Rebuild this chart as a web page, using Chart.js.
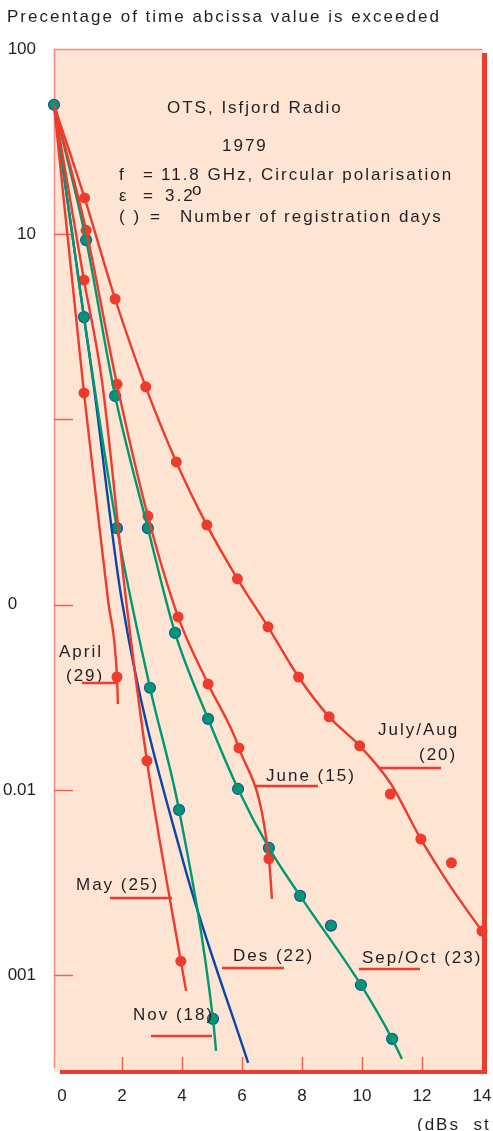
<!DOCTYPE html>
<html><head><meta charset="utf-8">
<script src="https://cdn.jsdelivr.net/npm/chart.js@4.4.1/dist/chart.umd.min.js"></script>
<style>html,body{margin:0;padding:0;background:#fff;}canvas{display:block;}</style>
</head><body>
<canvas id="c" width="493" height="1131"></canvas>
<script>
// ---------- axis ticks ----------
const xTickValues = [0, 2, 4, 6, 8, 10, 12, 14];
const xTickLabels = ['0', '2', '4', '6', '8', '10', '12', '14'];
const yTickValues = [100, 10, 1, 0.1, 0.01, 0.001];
const yTickLabels = ['100', '10', '', '0    ', '0.01', '001'];

// ---------- series (x = attenuation dB, y = % of time exceeded) ----------
// July/Aug (20)
const julyLineX = [0, 1, 2, 3, 4, 5, 6, 7, 8, 9, 10, 11, 12, 13, 14];
const julyLineY = [50, 15.7, 4.47, 1.50, 0.59, 0.269, 0.138, 0.0759, 0.0407, 0.0248, 0.0173, 0.0109, 0.00543, 0.00296, 0.00173];
const julyPtsX = [1, 2, 3, 4, 5, 6, 7, 8, 9, 10, 11, 12, 13, 14];
const julyPtsY = [15.7, 4.47, 1.50, 0.59, 0.269, 0.138, 0.0759, 0.0407, 0.0248, 0.0173, 0.0095, 0.00543, 0.00404, 0.00173];

// June (15)
const juneLineX = [0, 1.05, 2.06, 3.07, 4.06, 5.04, 6.05, 7.03, 7.13];
const juneLineY = [50, 10.5, 1.55, 0.301, 0.0859, 0.0373, 0.01686, 0.00425, 0.00258];
const junePtsX = [1.05, 2.06, 3.07, 4.06, 5.04, 6.05, 7.03];
const junePtsY = [10.5, 1.55, 0.301, 0.0859, 0.0373, 0.01686, 0.00425];

// April (29)
const aprilLineX = [0, 0.98, 1.77, 2.06, 2.09];
const aprilLineY = [50, 1.39, 0.105, 0.0407, 0.0291];
const aprilPtsX = [0.98, 2.06];
const aprilPtsY = [1.39, 0.0407];

// May (25)
const mayLineX = [0, 0.98, 1.57, 2.36, 3.04, 3.57, 4.15, 4.32];
const mayLineY = [50, 5.66, 1.61, 0.105, 0.01435, 0.00414, 0.00119, 0.000822];
const mayPtsX = [0.98, 3.04, 4.15];
const mayPtsY = [5.66, 0.01435, 0.00119];

// Sep/Oct (23)
const sepLineX = [0, 1.05, 2.0, 3.07, 3.96, 5.04, 6.02, 7.03, 8.05, 10.04, 11.06, 11.38];
const sepLineY = [50, 9.3, 1.34, 0.259, 0.0704, 0.0242, 0.01012, 0.00486, 0.00268, 0.000885, 0.000453, 0.000353];
const sepPtsX = [0, 1.05, 2.0, 3.07, 3.96, 5.04, 6.02, 7.03, 8.05, 9.06, 10.04, 11.06];
const sepPtsY = [50, 9.3, 1.34, 0.259, 0.0704, 0.0242, 0.01012, 0.00486, 0.00268, 0.00185, 0.000885, 0.000453];

// Nov (18)
const novLineX = [0, 0.98, 2.06, 3.14, 4.09, 5.20, 5.30];
const novLineY = [50, 3.57, 0.259, 0.0356, 0.0078, 0.000581, 0.00039];
const novPtsX = [0.98, 2.06, 3.14, 4.09, 5.20];
const novPtsY = [3.57, 0.259, 0.0356, 0.0078, 0.000581];

// Des (22)
const desLineX = [0, 0.98, 1.28, 2.22, 4.22, 6.35];
const desLineY = [50, 3.57, 1.61, 0.105, 0.00414, 0.000336];

// ---------- styling ----------
const RED = '#ed3b2d';
const GREEN = '#00986f';
const BLUE = '#0b45a8';
const MBORDER = '#1f4ea6';
const SALMON = '#f5897d';
const PEACH = '#fde4d3';
const TXT = '#231f20';
const FONT = "'Liberation Sans', Arial, sans-serif";

const zip = (xs, ys) => xs.map((x, i) => ({ x, y: ys[i] }));

function lineDs(xs, ys, color) {
  return { data: zip(xs, ys), borderColor: color, borderWidth: 2.4, pointRadius: 0,
    cubicInterpolationMode: 'monotone', fill: false, clip: false };
}
function ptsDs(xs, ys, fillColor, border) {
  return { data: zip(xs, ys), showLine: false, pointRadius: 5.5, pointHoverRadius: 5.5,
    pointBackgroundColor: fillColor, pointBorderColor: border, pointBorderWidth: border === fillColor ? 0 : 1.2,
    clip: false };
}

// ---------- texts ----------
const headerTexts = [
  ['Precentage of time abcissa value is exceeded', 7, 22],
  ['OTS, Isfjord Radio', 167, 113],
  ['1979', 222, 151],
  ['f', 119, 180], ['=', 143, 180], ['11.8 GHz, Circular polarisation', 161, 180],
  ['ε', 119, 201], ['=', 143, 201], ['3.2', 165, 201], ['o', 192, 195],
  ['( )', 119, 222], ['=', 150, 222], ['Number of registration days', 180, 222],
  ['April', 59, 657], ['(29)', 66, 681],
  ['July/Aug', 378, 735], ['(20)', 419, 760],
  ['June (15)', 266, 781],
  ['May (25)', 76, 890],
  ['Des (22)', 233, 961],
  ['Sep/Oct (23)', 362, 963],
  ['Nov (18)', 133, 1020],
  ['(dBs  st', 417, 1130]
];
const underlines = [
  [82, 118, 683], [378, 441, 768], [256, 318, 786], [110, 172, 898],
  [222, 284, 968], [359, 420, 969], [151, 212, 1036]
];

const decorPlugin = {
  id: 'decor',
  beforeDraw(chart) {
    const { ctx, chartArea: a } = chart;
    ctx.save();
    ctx.fillStyle = PEACH;
    ctx.fillRect(a.left, a.top, a.right - a.left + 1, a.bottom - a.top);
    ctx.restore();
  },
  beforeDatasetsDraw(chart) {
    const { ctx, chartArea: a, scales } = chart;
    ctx.save();
    // left and top thin borders
    ctx.strokeStyle = SALMON; ctx.lineWidth = 1.5;
    ctx.beginPath();
    ctx.moveTo(a.left + 0.5, a.bottom - 4); ctx.lineTo(a.left + 0.5, a.top + 0.5);
    ctx.lineTo(a.right, a.top + 0.5);
    ctx.stroke();
    // inner y ticks
    ctx.strokeStyle = '#f06254'; ctx.lineWidth = 1.5;
    yTickValues.forEach(v => {
      if (v >= 100) return;
      const y = Math.round(scales.y.getPixelForValue(v)) + 0.5;
      ctx.beginPath(); ctx.moveTo(a.left, y); ctx.lineTo(a.left + 19, y); ctx.stroke();
    });
    // inner x ticks
    xTickValues.forEach(v => {
      if (v <= 0 || v >= 14) return;
      const x = Math.round(scales.xt.getPixelForValue(v)) + 0.5;
      ctx.beginPath(); ctx.moveTo(x, a.bottom); ctx.lineTo(x, a.bottom - 15); ctx.stroke();
    });
    // right and bottom thick borders
    ctx.strokeStyle = RED;
    ctx.lineWidth = 5;
    ctx.beginPath(); ctx.moveTo(a.right + 2.5, a.top + 4); ctx.lineTo(a.right + 2.5, a.bottom + 1); ctx.stroke();
    ctx.lineWidth = 4;
    ctx.beginPath(); ctx.moveTo(a.left + 6, a.bottom); ctx.lineTo(a.right + 5, a.bottom); ctx.stroke();
    ctx.restore();
  },
  afterDraw(chart) {
    const { ctx } = chart;
    ctx.save();
    ctx.fillStyle = TXT;
    ctx.font = '17px ' + FONT;
    ctx.textBaseline = 'alphabetic';
    ctx.textAlign = 'left';
    try { ctx.letterSpacing = '2px'; } catch (e) {}
    headerTexts.forEach(([t, x, y]) => ctx.fillText(t, x, y));
    ctx.strokeStyle = RED; ctx.lineWidth = 2.5;
    underlines.forEach(([x1, x2, y]) => {
      ctx.beginPath(); ctx.moveTo(x1, y); ctx.lineTo(x2, y); ctx.stroke();
    });
    ctx.restore();
  }
};

new Chart(document.getElementById('c'), {
  type: 'line',
  data: {
    datasets: [
      lineDs(julyLineX, julyLineY, RED),
      lineDs(juneLineX, juneLineY, RED),
      lineDs(aprilLineX, aprilLineY, RED),
      lineDs(mayLineX, mayLineY, RED),
      lineDs(sepLineX, sepLineY, GREEN),
      lineDs(novLineX, novLineY, GREEN),
      lineDs(desLineX, desLineY, BLUE),
      ptsDs(julyPtsX, julyPtsY, RED, RED),
      ptsDs(junePtsX, junePtsY, RED, RED),
      ptsDs(aprilPtsX, aprilPtsY, RED, RED),
      ptsDs(mayPtsX, mayPtsY, RED, RED),
      ptsDs(sepPtsX, sepPtsY, GREEN, MBORDER),
      ptsDs(novPtsX, novPtsY, GREEN, MBORDER)
    ]
  },
  options: {
    responsive: false,
    devicePixelRatio: 1,
    animation: false,
    layout: { padding: { top: 49, right: 11, left: 0, bottom: 0 } },
    plugins: { legend: { display: false }, tooltip: { enabled: false }, title: { display: false } },
    events: [],
    scales: {
      x: { type: 'linear', min: 0, max: 14, display: false },
      xt: {
        type: 'linear', position: 'bottom', min: -0.267, max: 14,
        afterBuildTicks: s => { s.ticks = xTickValues.map(v => ({ value: v })); },
        afterFit: s => { s.height = 59; },
        grid: { display: true, drawOnChartArea: false, drawTicks: true, tickLength: 14, color: 'rgba(0,0,0,0)' },
        border: { display: false },
        ticks: {
          padding: 0, color: TXT, font: { size: 17, family: FONT }, maxRotation: 0, autoSkip: false,
          callback: (v, i) => xTickLabels[i]
        }
      },
      y: {
        type: 'logarithmic', position: 'left', min: 0.0003, max: 100,
        afterBuildTicks: s => { s.ticks = yTickValues.map(v => ({ value: v })); },
        afterFit: s => { s.width = 54; },
        grid: { display: false, drawTicks: false },
        border: { display: false },
        ticks: {
          padding: 18, color: TXT, font: { size: 17, family: FONT }, autoSkip: false,
          callback: (v, i) => yTickLabels[i]
        }
      }
    }
  },
  plugins: [decorPlugin]
});
</script>
</body></html>
